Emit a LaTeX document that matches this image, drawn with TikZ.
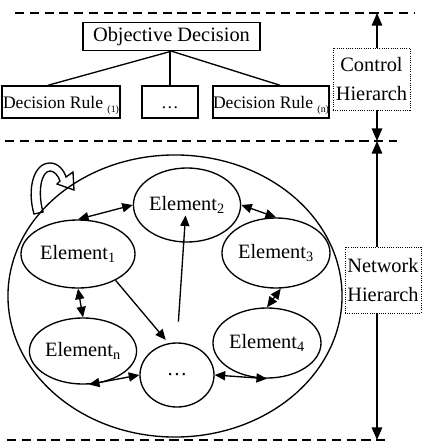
\documentclass[tikz,border=0pt]{standalone}
\usepackage{fontspec}
\setmainfont{Liberation Serif}
\usetikzlibrary{arrows.meta, shapes.geometric, positioning}

\begin{document}
\begin{tikzpicture}[x=0.025cm, y=-0.025cm, line width=0.95pt,
    every node/.style={font=\fontsize{14.5}{20}\selectfont},
    box/.style={draw, rectangle, inner sep=0pt, minimum height=0.8cm},
    rule/.style={box, font=\fontsize{12.5}{14}\selectfont, text height=9pt, text depth=0pt},
    elem/.style={draw, ellipse, inner sep=0pt},
    hier/.style={draw, densely dotted, line width=0.6pt, rectangle, align=center, inner sep=0pt},
    sep/.style={dash pattern=on 6.5pt off 4pt},
    axis/.style={-{Triangle[length=9pt,width=7.5pt]}},
    >={Triangle[length=7.5pt,width=6.5pt]}]
  \useasboundingbox (0,0) rectangle (422,448);
  \draw[sep] (15,13) -- (415,13); %上の破線
  \draw[sep] (5,141) -- (397,141); %中の破線
  \draw[sep] (7,440) -- (387,440); %下の破線
  % 制御階層
  \node[box, minimum width=4.425cm, minimum height=0.7cm] (obj) at (171.5,36.5) {Objective Decision};
  \node[rule, minimum width=2.95cm] (r1) at (61,102) {Decision Rule \raisebox{-0.5ex}{\fontsize{7}{8}\selectfont (1)}};
  \node[rule, minimum width=1.4cm] (rd) at (170,102) {\dots};
  \node[rule, minimum width=2.8cm] (rn) at (271,102) {Decision Rule \raisebox{-0.5ex}{\fontsize{7}{8}\selectfont (n)}};
  \draw (obj.south) -- ([xshift=-0.33cm]r1.north);
  \draw (rd.north |- obj.south) -- (rd.north);
  \draw (obj.south) -- ([xshift=0.23cm]rn.north);
  % ネットワーク階層
  \node[elem, minimum width=8.35cm, minimum height=7.05cm] (ring) at (175,296) {};
  \node[elem, minimum width=2.6cm, minimum height=1.85cm] (e2) at (187,205) {Element\textsubscript{2}};
  \node[elem, minimum width=2.85cm, minimum height=1.7cm] (e1) at (78,254) {Element\textsubscript{1}};
  \node[elem, minimum width=2.7cm, minimum height=1.75cm] (e3) at (276,253) {Element\textsubscript{3}};
  \node[elem, minimum width=2.65cm, minimum height=1.65cm] (en) at (83,351) {Element\textsubscript{n}};
  \node[elem, minimum width=1.85cm, minimum height=1.6cm] (ed) at (177,375) {\dots};
  \node[elem, minimum width=2.7cm, minimum height=1.75cm] (e4) at (267,343) {Element\textsubscript{4}};
  \draw[<->] (e1.north) -- (e2.west);
  \draw[<->] (e2.east) -- (e3.north);
  \draw[<->] (e1.south) -- (en.north);
  \draw[<->] ([xshift=0.12cm]e3.south) -- (e4.north);
  \draw[<->] (en.-80) -- (ed.west);
  \draw[<->] (ed.east) -- (e4.south);
  \draw[->, shorten >=3pt] (e1.-35) -- (ed.105);
  \draw[->, shorten <=0.52cm, shorten >=-0.68cm] (ed.north) -- (e2.265);
  \draw (34,214) .. controls (27,190) and (33,163) .. (50,163) .. controls (58,163) and (64,170) .. (66,177)
    -- (73,172) -- (74,190) -- (57,184) -- (60,181) .. controls (58,175) and (54,171) .. (50,171)
    .. controls (42,171) and (37,190) .. (43,212) -- cycle; %回る矢印
  % 右の階層軸
  \node[hier, minimum width=1.925cm, minimum height=1.55cm] (ctrl) at (371.5,79) {Control\\Hierarch};
  \node[hier, minimum width=1.9cm, minimum height=1.65cm] (netw) at (383,280) {Network\\Hierarch};
  \coordinate (ctop) at (377,13);
  \coordinate (cmid) at (377,141);
  \coordinate (cbot) at (377,440);
  \draw[axis] (ctrl.north -| ctop) -- (ctop);
  \draw[axis] (ctrl.south -| ctop) -- (cmid);
  \draw[axis] (netw.north -| cmid) -- (cmid);
  \draw[axis] (netw.south -| cbot) -- (cbot);
\end{tikzpicture}
\end{document}
